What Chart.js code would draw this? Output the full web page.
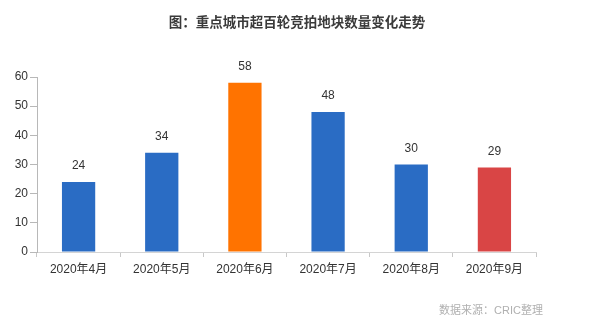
<!DOCTYPE html>
<html><head><meta charset="utf-8">
<script src="https://cdn.jsdelivr.net/npm/chart.js@4"></script>
<style>html,body{margin:0;padding:0;background:#fff}#wrap{width:600px;height:328px;position:relative}</style>
</head><body><div id="wrap"><canvas id="c" width="600" height="328"></canvas></div>
<script>
const categories = ["2020年4月","2020年5月","2020年6月","2020年7月","2020年8月","2020年9月"];
const values = [24, 34, 58, 48, 30, 29];
const barColors = ["#2a6cc4","#2a6cc4","#ff7300","#2a6cc4","#2a6cc4","#d94545"];
const yTicks = [0,10,20,30,40,50,60];
const titleText = "图：重点城市超百轮竞拍地块数量变化走势";
const sourceText = "数据来源：CRIC整理";
const FONT = "'Liberation Sans','Noto Sans CJK SC',Arial,sans-serif";
const CJK = "'Noto Sans CJK SC',sans-serif";

const extras = {
  id: 'extras',
  afterDatasetsDraw(chart) {
    const ctx = chart.ctx;
    const meta = chart.getDatasetMeta(0);
    ctx.save();
    ctx.fillStyle = '#333';
    ctx.font = "12px " + FONT;
    ctx.textAlign = 'center';
    ctx.textBaseline = 'middle';
    meta.data.forEach((bar, i) => {
      ctx.fillText(String(values[i]), bar.x, bar.y - 16);
    });
    ctx.font = "bold 13.5px " + CJK;
    ctx.fillStyle = '#3a3a3a';
    ctx.fillText(titleText, 297, 22);
    ctx.font = "11px " + FONT;
    ctx.fillStyle = '#b0b0b0';
    ctx.textAlign = 'right';
    ctx.fillText(sourceText, 543, 311);
    ctx.restore();
  }
};

new Chart(document.getElementById('c'), {
  type: 'bar',
  data: { labels: categories, datasets: [{ data: values, backgroundColor: barColors, categoryPercentage: 1.0, barPercentage: 0.4 }] },
  options: {
    responsive: false, animation: false,
    layout: { padding: { left: 0, right: 64, top: 77, bottom: 0 } },
    plugins: { legend: { display: false }, tooltip: { enabled: false } },
    scales: {
      x: {
        afterFit(s) { s.height = 76; },
        grid: { display: true, drawOnChartArea: false, drawTicks: true, tickLength: 5, color: '#c8c8c8', offset: true },
        border: { display: true, color: '#d4d4d4', width: 1 },
        ticks: { color: '#333', font: { size: 12, family: FONT }, padding: 5, maxRotation: 0 }
      },
      y: {
        min: 0, max: 60,
        afterFit(s) { s.width = 37; },
        afterBuildTicks(s) { s.ticks = yTicks.map(v => ({ value: v })); },
        grid: { display: true, drawOnChartArea: false, drawTicks: true, tickLength: 7, color: '#b8b8b8' },
        border: { display: true, color: '#b8b8b8', width: 1 },
        ticks: { color: '#333', font: { size: 12, family: FONT }, padding: 2 }
      }
    }
  },
  plugins: [extras]
});
</script></body></html>
